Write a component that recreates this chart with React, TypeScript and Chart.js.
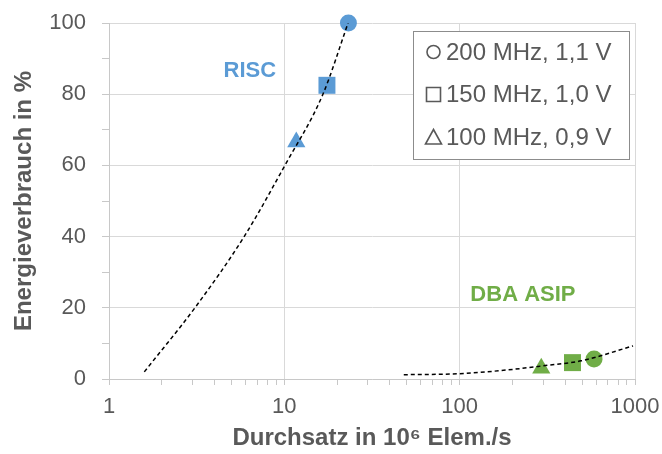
import React, { useEffect, useRef } from 'react';
import { Chart, registerables } from 'chart.js';

Chart.register(...registerables);

// ---- data ----
const configLabels = ['200 MHz, 1,1 V', '150 MHz, 1,0 V', '100 MHz, 0,9 V'];
const configShapes = ['circle', 'rect', 'triangle'];

const riscThroughput = [23.2, 17.5, 11.7];
const riscEnergy = [100, 82.5, 66.6];
const dbaThroughput = [584, 440, 292];
const dbaEnergy = [5.6, 4.6, 3.0];

const riscTrendX = [1.59, 3.09, 5.9, 10.07, 16.6, 23.1];
const riscTrendY = [2, 20, 40, 60, 80, 100];
const dbaTrendX = [48, 100, 201, 298, 493, 975];
const dbaTrendY = [1.2, 1.5, 2.7, 3.7, 5.1, 9.3];

const xTickValues = [1, 2, 3, 4, 5, 6, 7, 8, 9, 10, 20, 30, 40, 50, 60, 70, 80, 90, 100, 200, 300, 400, 500, 600, 700, 800, 900, 1000];
const xTickLabels = [1, 10, 100, 1000];
const yTickLabels = [0, 20, 40, 60, 80, 100];

const groupLabels = ['RISC', 'DBA ASIP'];
const groupLabelX = [6.36, 229.5];
const groupLabelY = [86.4, 23.6];

const xTitle = 'Durchsatz in 10\u2076 Elem./s';
const yTitle = 'Energieverbrauch in %';

// ---- styles ----
const FONT = "'Liberation Sans', Arial, Helvetica, sans-serif";
const TEXT = '#595959';
const GRID = '#d9d9d9';
const AXIS = '#c8c8c8';
const BLUE = '#5B9BD5';
const GREEN = '#70AD47';
const groupColors = [BLUE, GREEN];
const shapeRadius: Record<string, number> = { circle: 8.5, rect: 12, triangle: 10.5 };

const toPoints = (xs: number[], ys: number[]) => xs.map((x, i) => ({ x, y: ys[i] }));

const overlayPlugin = {
  id: 'overlay',
  afterDatasetsDraw(chart: any) {
    const { ctx, chartArea } = chart;
    const xs = chart.scales.x;
    const ys = chart.scales.y;
    ctx.save();
    // group labels
    ctx.font = `bold 22px ${FONT}`;
    ctx.textAlign = 'center';
    ctx.textBaseline = 'middle';
    groupLabels.forEach((t, i) => {
      ctx.fillStyle = groupColors[i];
      ctx.fillText(t, xs.getPixelForValue(groupLabelX[i]), ys.getPixelForValue(groupLabelY[i]));
    });
    // legend box
    const bw = 216;
    const bh = 128;
    const bx = Math.round(chartArea.right - 6 - bw) + 0.5;
    const by = Math.round(chartArea.top + 8) + 0.5;
    ctx.fillStyle = '#ffffff';
    ctx.fillRect(bx, by, bw, bh);
    ctx.strokeStyle = '#8c8c8c';
    ctx.lineWidth = 1;
    ctx.strokeRect(bx, by, bw, bh);
    ctx.font = `24px ${FONT}`;
    ctx.textAlign = 'left';
    ctx.textBaseline = 'middle';
    configLabels.forEach((label, i) => {
      const cy = by + 20.5 + i * 42.5;
      const cx = bx + 20;
      ctx.strokeStyle = TEXT;
      ctx.lineWidth = 1.6;
      ctx.beginPath();
      const shape = configShapes[i];
      if (shape === 'circle') {
        ctx.arc(cx, cy, 6.5, 0, Math.PI * 2);
      } else if (shape === 'rect') {
        ctx.rect(cx - 7, cy - 7, 14, 14);
      } else {
        ctx.moveTo(cx, cy - 7.5);
        ctx.lineTo(cx + 8, cy + 7);
        ctx.lineTo(cx - 8, cy + 7);
        ctx.closePath();
      }
      ctx.stroke();
      ctx.fillStyle = TEXT;
      ctx.fillText(label, bx + 32.5, cy + 1);
    });
    ctx.restore();
  },
};

export default function App() {
  const ref = useRef<HTMLCanvasElement>(null);

  useEffect(() => {
    if (!ref.current) return;
    const trendStyle = {
      showLine: true,
      pointRadius: 0,
      pointHoverRadius: 0,
      borderColor: '#000000',
      borderWidth: 1.5,
      borderDash: [4, 3],
      cubicInterpolationMode: 'monotone' as const,
      fill: false,
    };
    const pointStyle = (color: string) => ({
      showLine: false,
      pointStyle: configShapes,
      pointRadius: configShapes.map((s) => shapeRadius[s]),
      pointHoverRadius: configShapes.map((s) => shapeRadius[s]),
      backgroundColor: color,
      borderColor: color,
      borderWidth: 0,
      clip: false as any,
    });

    const chart = new Chart(ref.current, {
      type: 'scatter',
      data: {
        datasets: [
          { label: 'RISC Trend', data: toPoints(riscTrendX, riscTrendY), ...trendStyle },
          { label: 'DBA ASIP Trend', data: toPoints(dbaTrendX, dbaTrendY), ...trendStyle },
          { label: 'RISC', data: toPoints(riscThroughput, riscEnergy), ...pointStyle(BLUE) },
          { label: 'DBA ASIP', data: toPoints(dbaThroughput, dbaEnergy), ...pointStyle(GREEN) },
        ] as any,
      },
      options: {
        animation: false,
        responsive: true,
        maintainAspectRatio: false,
        layout: { padding: { top: 23, right: 27, left: 0, bottom: 0 } },
        plugins: {
          legend: { display: false },
          tooltip: { enabled: false },
        },
        scales: {
          x: {
            type: 'logarithmic',
            min: 1,
            max: 1000,
            afterBuildTicks: (scale: any) => {
              scale.ticks = xTickValues.map((v) => ({ value: v }));
            },
            afterFit: (scale: any) => {
              scale.height = 75;
              scale.paddingLeft = 0;
              scale.paddingRight = 0;
            },
            ticks: {
              autoSkip: false,
              maxRotation: 0,
              padding: 9,
              color: TEXT,
              font: { family: FONT, size: 22 },
              callback: (v: any) => (xTickLabels.includes(Number(v)) ? String(v) : ''),
            },
            grid: {
              color: (c: any) => (c.tick && xTickLabels.includes(c.tick.value) ? GRID : 'rgba(0,0,0,0)'),
              tickColor: AXIS,
              tickLength: 6,
              lineWidth: 1,
            },
            border: { color: AXIS },
            title: {
              display: true,
              text: xTitle,
              color: TEXT,
              font: { family: FONT, size: 24, weight: 'bold' },
              padding: { top: 0, bottom: 1 },
            },
          },
          y: {
            type: 'linear',
            min: 0,
            max: 100,
            afterFit: (scale: any) => {
              scale.width = 109;
              scale.paddingTop = 0;
              scale.paddingBottom = 0;
            },
            ticks: {
              stepSize: 10,
              autoSkip: false,
              padding: 16,
              color: TEXT,
              font: { family: FONT, size: 22 },
              callback: (v: any) => (yTickLabels.includes(Number(v)) ? String(v) : ''),
            },
            grid: {
              color: (c: any) => (c.tick && yTickLabels.includes(c.tick.value) ? GRID : 'rgba(0,0,0,0)'),
              tickColor: AXIS,
              tickLength: 7,
              lineWidth: 1,
            },
            border: { color: AXIS },
            title: {
              display: true,
              text: yTitle,
              color: TEXT,
              font: { family: FONT, size: 24, weight: 'bold' },
              padding: { top: 10, bottom: 0 },
            },
          },
        },
      },
      plugins: [overlayPlugin],
    });
    return () => chart.destroy();
  }, []);

  return (
    <div style={{ position: 'absolute', left: 0, top: 0, width: 662, height: 454 }}>
      <canvas ref={ref} />
    </div>
  );
}
